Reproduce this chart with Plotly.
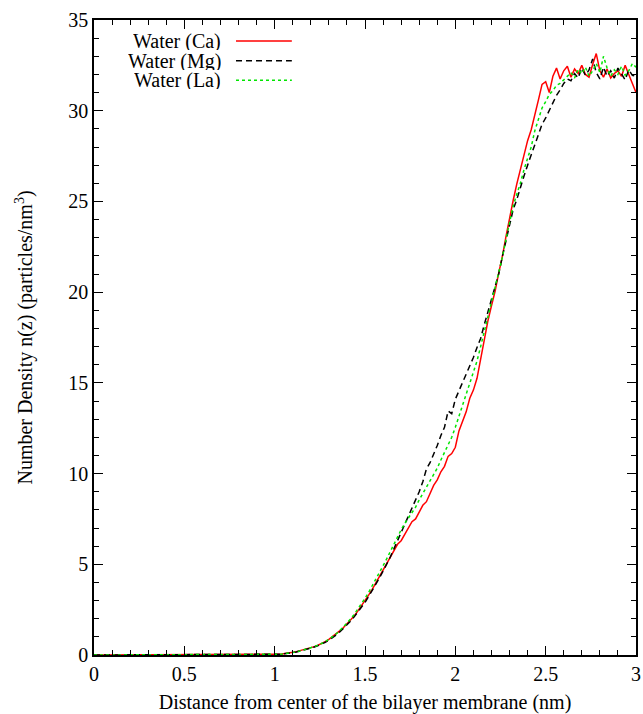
import plotly.graph_objects as go

# x grid (nm)
x_lead = [0.0, 0.4, 0.8]
x_main = [round(0.90 + 0.02 * i, 2) for i in range(106)]
x_vals = x_lead + x_main

ca_vals = [0.0, 0.0, 0.0,
    0.00, 0.00, 0.01, 0.01, 0.02, 0.03, 0.04, 0.06, 0.08, 0.11,
    0.14, 0.18, 0.24, 0.29, 0.34, 0.40, 0.46, 0.54, 0.63, 0.74,
    0.86, 1.00, 1.15, 1.33, 1.50, 1.70, 1.92, 2.15, 2.42, 2.70,
    2.98, 3.30, 3.62, 3.98, 4.30, 4.62, 5.05, 5.35, 5.70, 6.10,
    6.30, 6.65, 6.95, 7.35, 7.50, 7.85, 8.25, 8.45, 8.95, 9.35,
    9.65, 10.10, 10.40, 10.95, 11.10, 11.45, 12.35, 12.90, 13.40, 14.15,
    14.60, 15.25, 16.35, 17.45, 18.40, 19.25, 20.05, 21.05, 21.95, 23.05,
    24.15, 25.05, 25.95, 26.75, 27.55, 28.35, 28.95, 29.70, 30.60, 31.45,
    31.60, 31.00, 31.90, 32.35, 31.75, 32.20, 32.45, 31.85, 32.30, 32.05,
    32.50, 32.00, 31.85, 32.55, 33.15, 32.20, 31.85, 32.30, 31.80, 32.05,
    32.20, 31.90, 32.50, 32.00, 31.55, 31.00]

mg_vals = [0.0, 0.0, 0.0,
    0.00, 0.00, 0.01, 0.01, 0.02, 0.03, 0.04, 0.05, 0.07, 0.10,
    0.13, 0.17, 0.22, 0.27, 0.32, 0.38, 0.44, 0.52, 0.60, 0.70,
    0.82, 0.95, 1.10, 1.27, 1.45, 1.64, 1.86, 2.10, 2.36, 2.62,
    2.90, 3.22, 3.55, 3.90, 4.25, 4.62, 5.00, 5.40, 5.85, 6.30,
    6.75, 7.20, 7.60, 8.15, 8.55, 9.00, 9.55, 10.25, 10.60, 11.05,
    11.55, 12.10, 12.55, 13.45, 13.30, 14.10, 14.55, 15.00, 15.55, 15.90,
    16.40, 16.95, 17.45, 18.20, 18.90, 19.60, 20.30, 21.00, 21.95, 22.80,
    23.70, 24.55, 25.10, 25.80, 26.40, 27.00, 27.55, 28.20, 28.70, 29.25,
    29.60, 30.05, 30.50, 30.85, 31.15, 31.50, 31.75, 31.65, 32.05, 31.80,
    32.35, 31.95, 32.25, 32.85, 32.10, 31.75, 32.40, 31.90, 32.20, 31.80,
    32.35, 32.00, 31.70, 32.25, 31.95, 31.90]

la_vals = [0.0, 0.0, 0.0,
    0.00, 0.00, 0.01, 0.01, 0.02, 0.03, 0.04, 0.05, 0.07, 0.10,
    0.13, 0.17, 0.22, 0.27, 0.33, 0.39, 0.46, 0.54, 0.63, 0.74,
    0.86, 1.00, 1.16, 1.34, 1.54, 1.75, 1.98, 2.24, 2.52, 2.82,
    3.12, 3.45, 3.80, 4.15, 4.55, 4.92, 5.30, 5.70, 6.10, 6.55,
    6.90, 7.25, 7.55, 7.90, 8.15, 8.55, 8.90, 9.20, 9.55, 9.95,
    10.30, 10.75, 11.15, 11.60, 12.00, 12.55, 13.15, 13.70, 14.35, 14.90,
    15.55, 16.20, 17.00, 17.80, 18.55, 19.35, 20.20, 21.00, 21.90, 22.90,
    23.85, 24.75, 25.40, 26.00, 26.75, 27.40, 28.00, 28.90, 29.60, 30.15,
    30.50, 30.90, 31.10, 31.40, 31.50, 31.70, 31.85, 32.10, 31.80, 32.30,
    32.05, 32.40, 31.90, 32.20, 32.60, 32.10, 33.00, 32.35, 31.90, 32.25,
    32.00, 32.45, 31.95, 32.20, 32.60, 32.40]

series_names = ["Water (Ca)", "Water (Mg)", "Water (La)"]
series_vals = [ca_vals, mg_vals, la_vals]
colors = ["#ff0000", "#000000", "#00e600"]
dashes = ["solid", "6px,4px", "3px,3px"]

x_ticks = [0, 0.5, 1, 1.5, 2, 2.5, 3]
y_ticks = [0, 5, 10, 15, 20, 25, 30, 35]

FONT = "Liberation Serif, Times New Roman, serif"
FS = 20

fig = go.Figure()
for name, vals, c, d in zip(series_names, series_vals, colors, dashes):
    fig.add_trace(go.Scatter(x=x_vals, y=vals, mode="lines", name=name,
                             line=dict(color=c, width=1.5, dash=d),
                             showlegend=False))

# gnuplot-style legend (text right-aligned, line sample to the right)
leg_y = [0.967, 0.936, 0.905]
for name, c, d, yy in zip(series_names, colors, dashes, leg_y):
    fig.add_annotation(x=0.236, y=yy, xref="paper", yref="paper", text=name,
                       showarrow=False, xanchor="right", yanchor="middle",
                       height=18, borderpad=0,
                       font=dict(family=FONT, size=FS, color="black"))
    fig.add_shape(type="line", xref="paper", yref="paper",
                  x0=0.262, x1=0.365, y0=yy, y1=yy,
                  line=dict(color=c, width=1.5, dash=d))

axis_common = dict(showgrid=False, zeroline=False, showline=True,
                   linecolor="black", linewidth=1.5, mirror="allticks",
                   ticks="inside", ticklen=9, tickwidth=1.2, tickcolor="black",
                   automargin=False,
                   tickfont=dict(family=FONT, size=FS, color="black"))

fig.update_xaxes(range=[0, 3], tickvals=x_ticks,
                 minor=dict(dtick=0.1, ticks="inside", ticklen=5, tickwidth=1.2, tickcolor="black"),
                 title=dict(text="Distance from center of the bilayer membrane (nm)",
                            font=dict(family=FONT, size=FS, color="black"), standoff=18),
                 **axis_common)
fig.update_yaxes(range=[0, 35], tickvals=y_ticks,
                 minor=dict(dtick=1, ticks="inside", ticklen=5, tickwidth=1.2, tickcolor="black"),
                 title=dict(text="Number Density n(z) (particles/nm<sup>3</sup>)",
                            font=dict(family=FONT, size=FS, color="black"), standoff=30),
                 **axis_common)

fig.update_layout(width=643, height=714, plot_bgcolor="white", paper_bgcolor="white",
                  margin=dict(l=94, r=7, t=20, b=59),
                  font=dict(family=FONT, size=FS, color="black"))

fig.write_html("out.html")
